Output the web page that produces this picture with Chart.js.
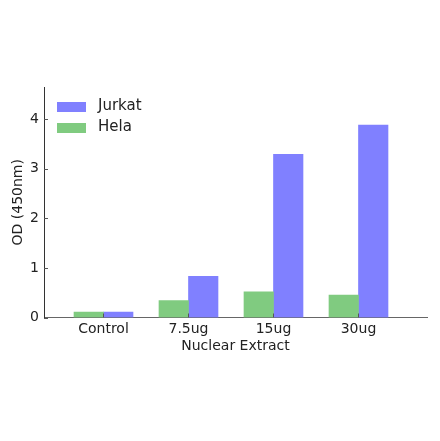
<!DOCTYPE html>
<html>
<head>
<meta charset="utf-8">
<script src="https://cdn.jsdelivr.net/npm/chart.js@4/dist/chart.umd.min.js"></script>
<style>
html,body{margin:0;padding:0;background:#fff;}
canvas{display:block;}
</style>
</head>
<body>
<canvas id="c" width="440" height="441"></canvas>
<script>
const categories = ['Control', '7.5ug', '15ug', '30ug'];
const helaValues = [0.11, 0.34, 0.52, 0.45];
const jurkatValues = [0.11, 0.83, 3.29, 3.88];
const yTicks = [0, 1, 2, 3, 4];
const seriesNames = ['Hela', 'Jurkat'];

const FONT = 'DejaVu Sans';
const GREEN = 'rgb(128,203,128)';
const BLUE = 'rgb(128,128,255)';

const legendPlugin = {
  id: 'customLegend',
  afterDraw(chart) {
    const ctx = chart.ctx;
    const ds = chart.data.datasets.slice().reverse();
    ctx.save();
    ctx.font = '15px "' + FONT + '"';
    ctx.textBaseline = 'middle';
    ctx.textAlign = 'left';
    ds.forEach((d, i) => {
      const cy = 106.5 + i * 21;
      ctx.fillStyle = d.backgroundColor;
      ctx.fillRect(57, Math.round(cy - 5), 29, 10);
      ctx.fillStyle = '#222';
      ctx.fillText(d.label, 98, cy);
    });
    ctx.restore();
  }
};

const tickPlugin = {
  id: 'innerTicks',
  afterDatasetsDraw(chart) {
    const ctx = chart.ctx;
    const xs = chart.scales.x, ys = chart.scales.y;
    ctx.save();
    ctx.strokeStyle = '#555';
    ctx.lineWidth = 1;
    ctx.beginPath();
    yTicks.forEach(v => {
      const py = Math.round(ys.getPixelForValue(v)) + 0.5;
      ctx.moveTo(xs.left, py);
      ctx.lineTo(xs.left + 4, py);
    });
    categories.forEach((c, i) => {
      const px = Math.round(xs.getPixelForValue(i)) + 0.5;
      ctx.moveTo(px, ys.bottom);
      ctx.lineTo(px, ys.bottom - 4);
    });
    ctx.stroke();
    ctx.restore();
  }
};

new Chart(document.getElementById('c'), {
  type: 'bar',
  data: {
    datasets: [
      { label: seriesNames[0], data: helaValues.map((v, i) => ({ x: i, y: v })), backgroundColor: GREEN, borderWidth: 0 },
      { label: seriesNames[1], data: jurkatValues.map((v, i) => ({ x: i, y: v })), backgroundColor: BLUE, borderWidth: 0 }
    ]
  },
  options: {
    responsive: false,
    devicePixelRatio: 1,
    animation: false,
    barThickness: 29.5,
    layout: { padding: { top: 87, right: 13, left: 0, bottom: 0 } },
    plugins: { legend: { display: false }, tooltip: { enabled: false } },
    scales: {
      x: {
        type: 'linear',
        offset: false,
        min: -0.7,
        max: 3.806,
        grid: { display: false, offset: false, drawTicks: false },
        border: { display: true, color: '#666', width: 1 },
        afterBuildTicks(s) { s.ticks = categories.map((c, i) => ({ value: i })); },
        afterFit(s) { s.height = 441 - 317.5; },
        ticks: {
          autoSkip: false, maxRotation: 0, padding: 3,
          color: '#222', font: { family: FONT, size: 14 },
          callback: (v) => categories[v] !== undefined ? categories[v] : ''
        },
        title: {
          display: true, text: 'Nuclear Extract', color: '#222',
          font: { family: FONT, size: 14 }, padding: { top: 0, bottom: 86.5 }
        }
      },
      y: {
        min: 0,
        max: 4.65,
        grid: { display: false, drawTicks: false },
        border: { display: true, color: '#333', width: 1 },
        afterBuildTicks(s) { s.ticks = yTicks.map(v => ({ value: v })); },
        afterFit(s) { s.width = 44; },
        ticks: { padding: 5, color: '#222', font: { family: FONT, size: 14 } },
        title: {
          display: true, text: 'OD (450nm)', color: '#222',
          font: { family: FONT, size: 14 }, padding: { top: 10, bottom: 0 }
        }
      }
    }
  },
  plugins: [tickPlugin, legendPlugin]
});
</script>
</body>
</html>
